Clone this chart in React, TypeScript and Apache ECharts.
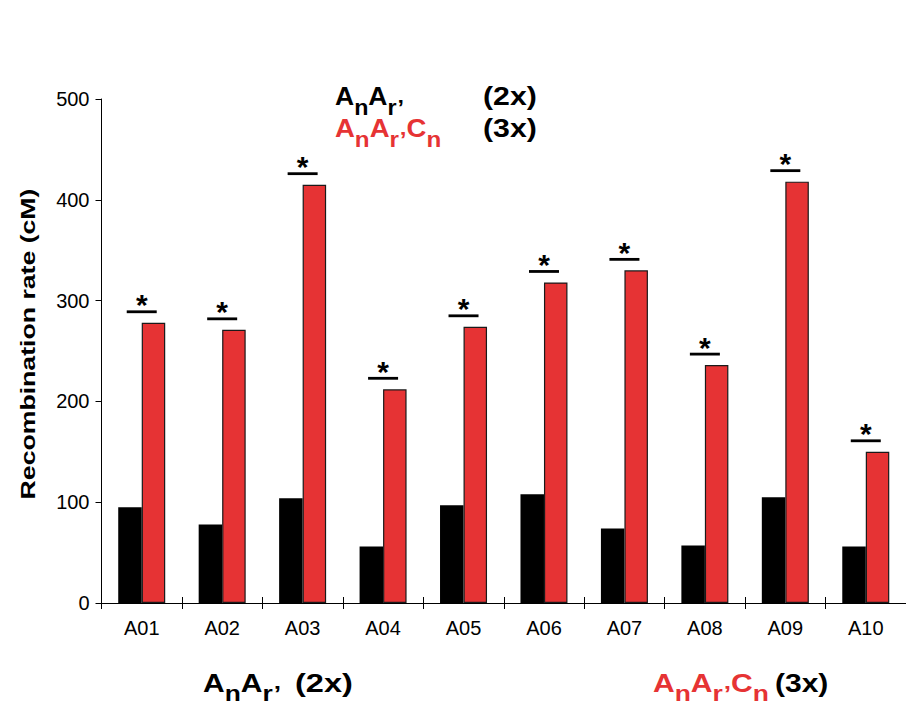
import React, { useEffect, useRef } from "react";
import * as echarts from "echarts";

const categories = ["A01", "A02", "A03", "A04", "A05", "A06", "A07", "A08", "A09", "A10"];
const seriesTwoX = [95, 78, 104, 56, 97, 108, 74, 57, 105, 56];
const seriesThreeX = [278, 271, 415, 212, 274, 318, 330, 236, 418, 150];
const yTicks = { min: 0, max: 500, interval: 100 };

const RED = "#E63334";
const FONT = "Liberation Sans, Arial, sans-serif";

const richStyles = {
  a: { fontSize: 25, fontWeight: "bold", fontFamily: FONT, lineHeight: 28 },
  s: { fontSize: 22, fontWeight: "bold", fontFamily: FONT, lineHeight: 18, padding: [21, 0, 0, 0] },
};

function labelText(x: number, y: number, text: string, fill: string, scaleX: number, rich = true) {
  return {
    type: "text",
    x,
    y,
    scaleX,
    silent: true,
    style: rich
      ? { text, rich: richStyles, fill, align: "left", verticalAlign: "middle" }
      : { text, fill, fontSize: 25, fontWeight: "bold", fontFamily: FONT, align: "left", verticalAlign: "middle" },
  };
}

export default function App() {
  const ref = useRef<HTMLDivElement>(null);
  useEffect(() => {
    if (!ref.current) return;
    const chart = echarts.init(ref.current, null, { renderer: "svg" });
    const option = {
      animation: false,
      backgroundColor: "#ffffff",
      grid: { left: 101.5, top: 99, width: 807, bottom: 102 },
      xAxis: [
        {
          type: "category",
          data: categories,
          axisLine: { lineStyle: { color: "#000", width: 1 } },
          axisTick: { show: true, length: 6, lineStyle: { color: "#000" } },
          axisLabel: { color: "#000", fontSize: 20, fontFamily: FONT, margin: 15 },
        },
        {
          type: "category",
          data: categories,
          position: "bottom",
          axisLine: { show: false },
          axisTick: { show: true, inside: true, length: 6, lineStyle: { color: "#000" } },
          axisLabel: { show: false },
        },
      ],
      yAxis: {
        type: "value",
        min: yTicks.min,
        max: yTicks.max,
        interval: yTicks.interval,
        splitLine: { show: false },
        axisLine: { show: true, lineStyle: { color: "#000", width: 1 } },
        axisTick: { show: true, length: 6, lineStyle: { color: "#000" } },
        axisLabel: { color: "#000", fontSize: 20, fontFamily: FONT, margin: 12 },
      },
      series: [
        {
          type: "bar",
          name: "2x",
          data: seriesTwoX,
          barWidth: 23.5,
          barGap: "0%",
          itemStyle: { color: "#000000" },
        },
        {
          type: "bar",
          name: "3x",
          data: seriesThreeX,
          barWidth: 23.5,
          barGap: "0%",
          itemStyle: { color: RED, borderColor: "#1a1a1a", borderWidth: 1.2 },
        },
        {
          type: "custom",
          name: "sig",
          data: seriesThreeX.map((v, i) => [i, v]),
          encode: { x: 0, y: 1 },
          clip: false,
          z: 5,
          renderItem: (params: any, api: any) => {
            const p = api.coord([api.value(0), api.value(1)]);
            const ly = p[1] - 11;
            return {
              type: "group",
              children: [
                {
                  type: "line",
                  shape: { x1: p[0] - 15, y1: ly, x2: p[0] + 15, y2: ly },
                  style: { stroke: "#000", lineWidth: 2.8 },
                },
                {
                  type: "text",
                  x: p[0],
                  y: ly - 7,
                  style: {
                    text: "*",
                    fill: "#000",
                    fontSize: 30,
                    fontWeight: "bold",
                    fontFamily: FONT,
                    align: "center",
                    verticalAlign: "middle",
                  },
                },
              ],
            };
          },
        },
      ],
      graphic: [
        {
          type: "text",
          x: 28,
          y: 344,
          rotation: Math.PI / 2,
          scaleX: 1.3,
          silent: true,
          style: {
            text: "Recombination rate (cM)",
            fill: "#000",
            fontSize: 20.5,
            fontWeight: "bold",
            fontFamily: FONT,
            align: "center",
            verticalAlign: "middle",
          },
        },
        labelText(335, 96.5, "{a|A}{s|n}{a|A}{s|r’}", "#000", 1.06),
        labelText(483, 96.5, "(2x)", "#000", 1.21, false),
        labelText(335, 128.5, "{a|A}{s|n}{a|A}{s|r’}{a|C}{s|n}", RED, 1.1),
        labelText(483, 128.5, "(3x)", "#000", 1.21, false),
        labelText(203, 683, "{a|A}{s|n}{a|A}{s|r’}", "#000", 1.2),
        labelText(295, 683, "(2x)", "#000", 1.3, false),
        labelText(653, 683, "{a|A}{s|n}{a|A}{s|r’}{a|C}{s|n}", RED, 1.2),
        labelText(775, 683, "(3x)", "#000", 1.2, false),
      ],
    };
    chart.setOption(option as any);
    return () => chart.dispose();
  }, []);
  return <div ref={ref} style={{ width: 906, height: 705, position: "absolute", left: 0, top: 0 }} />;
}
